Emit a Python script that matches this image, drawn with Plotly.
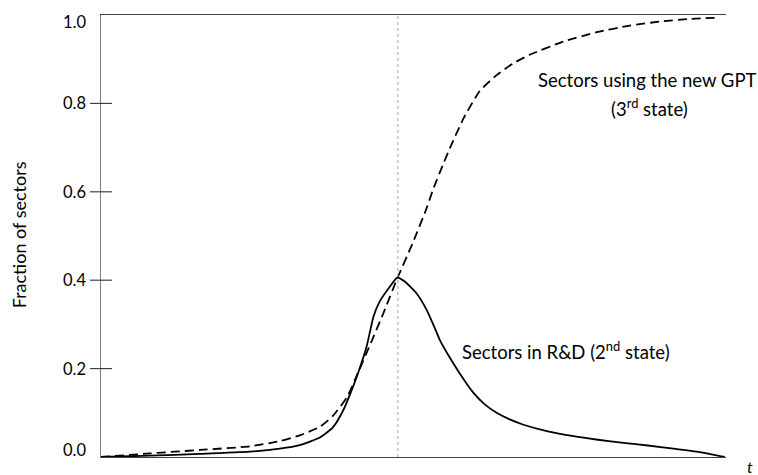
import plotly.graph_objects as go

# Time axis (arbitrary units 0..100)
t_rd = [0, 7.8, 15.8, 23.8, 28.6, 31.8, 35.0, 37.1, 38.7, 40.3, 41.3, 42.5, 43.6, 44.6,
        46.2, 47.4, 48.6, 50.5, 52.1, 53.4, 54.2, 55.8, 57.4, 59.6, 61.4, 63.3, 65.4,
        67.6, 71.5, 75.6, 79.5, 83.6, 87.5, 91.6, 95.8, 99.8]
rd_share = [0.0, 0.003, 0.007, 0.012, 0.019, 0.027, 0.044, 0.067, 0.104, 0.158, 0.197, 0.25,
            0.318, 0.352, 0.385, 0.406, 0.397, 0.37, 0.333, 0.292, 0.265, 0.225, 0.189, 0.145,
            0.119, 0.1, 0.085, 0.073, 0.058, 0.047, 0.039, 0.032, 0.026, 0.019, 0.011, 0.0]

t_gpt = [0, 7.8, 15.8, 23.8, 28.6, 31.8, 35.0, 37.1, 39.4, 41.1, 43.0, 45.2, 47.4, 49.9,
         52.1, 53.2, 54.8, 55.8, 58.0, 60.6, 63.3, 65.9, 68.6, 74.0, 79.3, 84.6, 89.9, 94.2, 98.7]
gpt_share = [0.0, 0.008, 0.016, 0.024, 0.036, 0.049, 0.068, 0.093, 0.136, 0.19, 0.252, 0.326,
             0.404, 0.485, 0.563, 0.608, 0.664, 0.698, 0.766, 0.828, 0.864, 0.89, 0.91, 0.94,
             0.961, 0.976, 0.986, 0.991, 0.994]

y_ticks = [0.0, 0.2, 0.4, 0.6, 0.8, 1.0]
y_tick_text = ["0.0", "0.2", "0.4", "0.6", "0.8", "1.0"]
peak_t = 47.5

FONT = "Lato, 'Open Sans', sans-serif"

fig = go.Figure()
fig.add_trace(go.Scatter(x=t_gpt, y=gpt_share, mode="lines",
                         line=dict(color="black", width=1.8, dash="9px,5px", shape="spline", smoothing=0.5),
                         showlegend=False, hoverinfo="skip"))
fig.add_trace(go.Scatter(x=t_rd, y=rd_share, mode="lines",
                         line=dict(color="black", width=1.8, shape="spline", smoothing=0.5),
                         showlegend=False, hoverinfo="skip"))

# vertical dotted line at peak
fig.add_shape(type="line", xref="x", yref="paper", x0=peak_t, x1=peak_t, y0=0, y1=1,
              line=dict(color="#a0a0a0", width=1, dash="dot"))

# tick marks crossing the y axis (interior ticks) and tick labels
for v, txt in zip(y_ticks, y_tick_text):
    if 0 < v < 1:
        fig.add_shape(type="line", xref="paper", yref="y", x0=-0.0176, x1=0.0176, y0=v, y1=v,
                      line=dict(color="#404040", width=1.2))
        shift = 0
    else:
        shift = 7 if v == 0 else -7
    fig.add_annotation(x=-0.021, y=v, xref="paper", yref="y", text=txt, showarrow=False,
                       xanchor="right", yanchor="middle", yshift=shift,
                       font=dict(family=FONT, size=16.5, color="black"))

fig.add_annotation(x=87.4, y=0.853, xref="x", yref="y", text="Sectors using the new GPT",
                   showarrow=False, xanchor="center", yanchor="middle",
                   font=dict(family=FONT, size=18.5, color="black"))
fig.add_annotation(x=87.8, y=0.79, xref="x", yref="y", text="(3<sup>rd</sup> state)",
                   showarrow=False, xanchor="center", yanchor="middle",
                   font=dict(family=FONT, size=18.5, color="black"))
fig.add_annotation(x=57.5, y=0.242, xref="x", yref="y", text="Sectors in R&D (2<sup>nd</sup> state)",
                   showarrow=False, xanchor="left", yanchor="middle",
                   font=dict(family=FONT, size=18.5, color="black"))
fig.add_annotation(x=-0.131, y=0.502, xref="paper", yref="paper", text="Fraction of sectors",
                   textangle=-90, showarrow=False, xanchor="center", yanchor="middle",
                   font=dict(family=FONT, size=18, color="black"))
fig.add_annotation(x=1.0384, y=-0.0226, xref="paper", yref="paper", text="<i>t</i>",
                   showarrow=False, xanchor="center", yanchor="middle",
                   font=dict(family=FONT, size=16, color="black"))

fig.update_layout(
    width=758, height=475,
    margin=dict(l=101, r=32, t=15, b=18),
    paper_bgcolor="white", plot_bgcolor="white",
    xaxis=dict(range=[0, 100], showgrid=False, zeroline=False, showticklabels=False, ticks="",
               showline=True, mirror=True, linecolor="#404040", linewidth=1.2),
    yaxis=dict(range=[0, 1], showgrid=False, zeroline=False, showticklabels=False, ticks="",
               showline=True, linecolor="#7f7f7f", linewidth=1.2),
)

fig.write_html("out.html", config={"displayModeBar": False},
               post_script="document.body.style.margin='0';document.body.style.overflow='hidden';")
